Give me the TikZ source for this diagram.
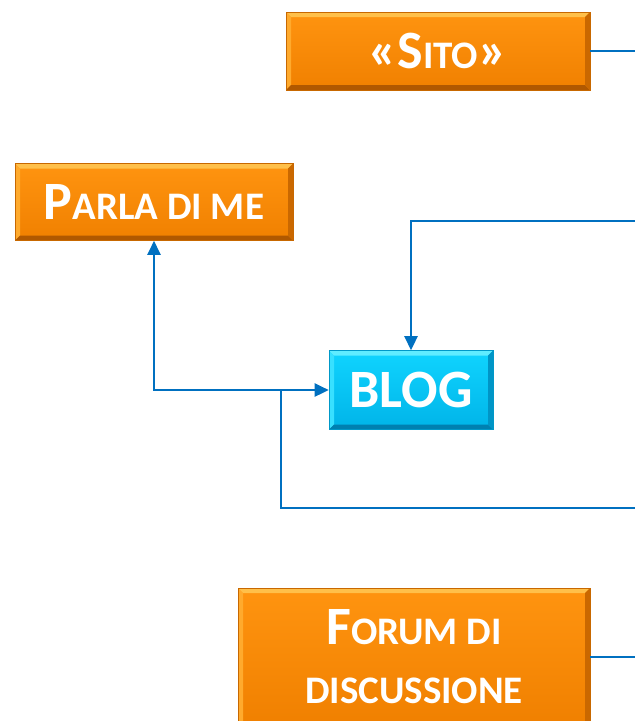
\documentclass[tikz,border=0pt]{standalone}
\usepackage{fontspec}
\setmainfont{Carlito}
\usetikzlibrary{arrows.meta,calc}
\definecolor{conncol}{HTML}{0070C0}
\definecolor{orA}{HTML}{FF9410}
\definecolor{orB}{HTML}{F08000}
\definecolor{orTop}{HTML}{FFC04A}
\definecolor{orBot}{HTML}{B05800}
\definecolor{orSide}{HTML}{C86800}
\definecolor{blA}{HTML}{10D4FF}
\definecolor{blB}{HTML}{00B4E8}
\definecolor{blTop}{HTML}{60ECFF}
\definecolor{blBot}{HTML}{0080B0}
\definecolor{blSide}{HTML}{0098C8}
\newcommand\smc[1]{{\fontsize{39}{39}\selectfont #1}}
\tikzset{
  x=1pt,y=-1pt,
  conn/.style={draw=conncol,line width=2.6pt},
  tipshape/.tip={Triangle[length=14pt,width=13pt]},
  bevel/.style n args={5}{
    top color=#1,bottom color=#2,draw=#5,line width=0.6pt,
    inner sep=0pt,text=white,align=center,
    font=\fontsize{54}{62}\selectfont\bfseries,
    path picture={
      \fill[#3] (path picture bounding box.north west) -- (path picture bounding box.north east)
        -- ($(path picture bounding box.north east)+(-5pt,-5pt)$) -- ($(path picture bounding box.north west)+(5pt,-5pt)$) -- cycle;
      \fill[#3!50!#1] (path picture bounding box.north west) -- ($(path picture bounding box.north west)+(5pt,-5pt)$)
        -- ($(path picture bounding box.south west)+(5pt,5pt)$) -- (path picture bounding box.south west) -- cycle;
      \fill[#4] (path picture bounding box.south west) -- (path picture bounding box.south east)
        -- ($(path picture bounding box.south east)+(-5pt,5pt)$) -- ($(path picture bounding box.south west)+(5pt,5pt)$) -- cycle;
      \fill[#4!60!#2] (path picture bounding box.north east) -- ($(path picture bounding box.north east)+(-5pt,-5pt)$)
        -- ($(path picture bounding box.south east)+(-5pt,5pt)$) -- (path picture bounding box.south east) -- cycle;
    }},
  orbox/.style={bevel={orA}{orB}{orTop}{orBot}{orSide}},
  blbox/.style={bevel={blA}{blB}{blTop}{blBot}{blSide}}
}
\begin{document}
\begin{tikzpicture}
\useasboundingbox (0,0) rectangle (635,721);
\clip (0,0) rectangle (635,721);
\node[orbox,minimum width=304pt,minimum height=78pt] (sito) at (438,51) {«S\smc{ITO}»};
\node[orbox,minimum width=278pt,minimum height=77pt] (parla) at (154,202) {P\smc{ARLA DI ME}};
\node[blbox,minimum width=164pt,minimum height=79pt] (blog) at (411,390) {BLOG};
\node[orbox,minimum width=352pt,minimum height=138pt] (forum) at (414,657) {F\smc{ORUM DI}\\[-3pt]\smc{DISCUSSIONE}};
\coordinate (e1) at (635,51);
\coordinate (e2) at (635,221);
\coordinate (e3) at (635,508);
\coordinate (e4) at (635,657);
\coordinate (j) at (281,390);
\draw[conn] (sito.east) -- (e1);
\draw[conn,-tipshape] (e2) -| (blog.north);
\draw[conn,tipshape-tipshape] (parla.south) |- (blog.west);
\draw[conn] (e3) -| (j);
\draw[conn] (forum.east) -- (e4);
\end{tikzpicture}
\end{document}
